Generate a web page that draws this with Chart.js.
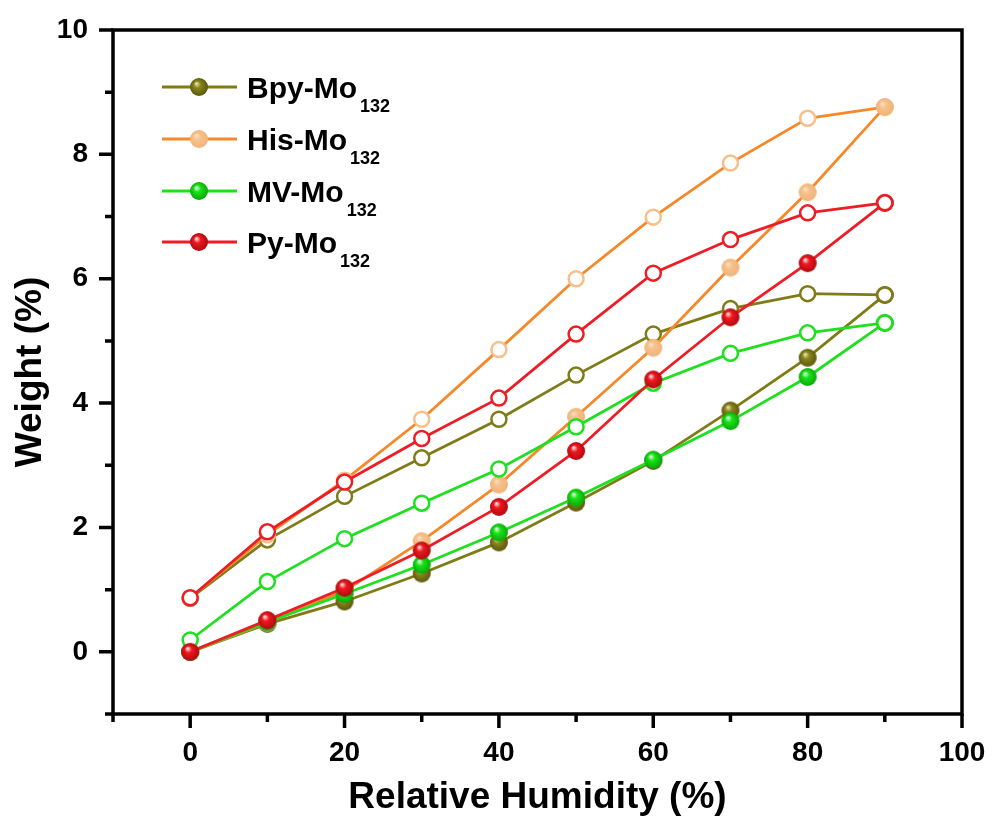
<!DOCTYPE html>
<html lang="en">
<head>
    <meta charset="UTF-8">
    <title>Weight vs Relative Humidity</title>
    <script src="https://cdn.jsdelivr.net/npm/chart.js"></script>
    <style>
        body {
            margin: 0;
            background: #ffffff;
        }
        #wrap {
            width: 992px;
            height: 824px;
        }
    </style>
</head>
<body>
    <div id="wrap">
        <canvas id="rhChart" width="992" height="824"></canvas>
    </div>
    <script>
        // relative humidity (%)
        const humidity = [0, 10, 20, 30, 40, 50, 60, 70, 80, 90];

        // adsorption (filled) and desorption (open) branches, weight %
        const bpyAds = [0, 0.45, 0.81, 1.26, 1.76, 2.40, 3.07, 3.88, 4.73, 5.74];
        const bpyDes = [0.86, 1.80, 2.50, 3.12, 3.74, 4.45, 5.11, 5.52, 5.76, 5.74];
        const hisAds = [0, 0.47, 0.98, 1.78, 2.69, 3.78, 4.89, 6.18, 7.39, 8.76];
        const hisDes = [0.87, 1.88, 2.76, 3.74, 4.86, 6.00, 6.99, 7.86, 8.58, 8.76];
        const mvAds = [0, 0.48, 0.93, 1.40, 1.92, 2.48, 3.09, 3.71, 4.42, 5.29];
        const mvDes = [0.19, 1.13, 1.82, 2.39, 2.94, 3.62, 4.32, 4.80, 5.13, 5.29];
        const pyAds = [0, 0.51, 1.03, 1.63, 2.33, 3.23, 4.38, 5.38, 6.25, 7.22];
        const pyDes = [0.87, 1.93, 2.73, 3.43, 4.08, 5.11, 6.09, 6.63, 7.06, 7.22];

        const seriesNames = ['Bpy-Mo', 'His-Mo', 'MV-Mo', 'Py-Mo'];
        const xTicks = [0, 20, 40, 60, 80, 100];
        const yTicks = [0, 2, 4, 6, 8, 10];

        const FONT = "'Liberation Sans', Arial, sans-serif";

        // little shaded ball used as the filled marker
        function sphere(light, base, dark, r) {
            const c = document.createElement('canvas');
            const s = r * 2 + 2;
            c.width = s;
            c.height = s;
            const g = c.getContext('2d');
            const cx = s / 2, cy = s / 2;
            const grad = g.createRadialGradient(cx - r * 0.3, cy - r * 0.4, r * 0.05, cx, cy, r);
            grad.addColorStop(0, light);
            grad.addColorStop(0.35, base);
            grad.addColorStop(1, dark);
            g.fillStyle = grad;
            g.beginPath();
            g.arc(cx, cy, r, 0, Math.PI * 2);
            g.fill();
            return c;
        }

        const styles = [
            { line: '#7f7b17', open: '#7f7b17', ball: sphere('#e8e6b0', '#8a861c', '#5c580c', 9) },
            { line: '#f5892a', open: '#f6c08a', ball: sphere('#fbe0c4', '#f6c28d', '#f1b377', 9) },
            { line: '#1ee01e', open: '#1ee01e', ball: sphere('#e6ffe6', '#18e418', '#0aa80a', 9) },
            { line: '#ee1c25', open: '#ee1c25', ball: sphere('#ffe6e6', '#f01820', '#b00a10', 9) }
        ];

        function pts(arr) {
            return humidity.map((h, i) => ({ x: h, y: arr[i] }));
        }

        function filledSet(arr, st, order) {
            return {
                data: pts(arr),
                borderColor: st.line,
                borderWidth: 2.8,
                pointStyle: st.ball,
                pointRadius: 9,
                tension: 0,
                order: order
            };
        }

        function openSet(arr, st, order) {
            return {
                data: pts(arr),
                borderColor: st.line,
                borderWidth: 2.8,
                pointStyle: 'circle',
                pointRadius: 7.5,
                pointBorderWidth: 2.5,
                pointBackgroundColor: '#ffffff',
                pointBorderColor: st.open,
                tension: 0,
                order: order
            };
        }

        // lower order is drawn on top
        const datasets = [
            filledSet(bpyAds, styles[0], 7),
            openSet(bpyDes, styles[0], 6),
            openSet(hisDes, styles[1], 5),
            filledSet(hisAds, styles[1], 4),
            filledSet(mvAds, styles[2], 3),
            openSet(mvDes, styles[2], 2),
            filledSet(pyAds, styles[3], 1),
            openSet(pyDes, styles[3], 0)
        ];

        // frame, outward ticks (long major / short minor) and the legend
        const framePlugin = {
            id: 'frame',
            afterDraw(chart) {
                const ctx = chart.ctx;
                const a = chart.chartArea;
                const xs = chart.scales.x, ys = chart.scales.y;
                ctx.save();
                ctx.strokeStyle = '#000';
                ctx.lineWidth = 3.5;
                ctx.strokeRect(a.left, a.top, a.right - a.left, a.bottom - a.top);
                ctx.beginPath();
                for (let v = -10; v <= 100; v += 10) {
                    const px = xs.getPixelForValue(v);
                    const len = xTicks.includes(v) ? 14 : 8;
                    ctx.moveTo(px, a.bottom);
                    ctx.lineTo(px, a.bottom + len);
                }
                for (let v = -1; v <= 10; v += 1) {
                    const py = ys.getPixelForValue(v);
                    const len = yTicks.includes(v) ? 14 : 8;
                    ctx.moveTo(a.left, py);
                    ctx.lineTo(a.left - len, py);
                }
                ctx.stroke();

                // legend
                const lx0 = 162, lx1 = 237, mx = 199, tx = 247;
                const rowY = [87, 139, 191, 242];
                seriesNames.forEach((name, i) => {
                    const st = styles[i];
                    const y = rowY[i];
                    ctx.strokeStyle = st.line;
                    ctx.lineWidth = 2.8;
                    ctx.beginPath();
                    ctx.moveTo(lx0, y);
                    ctx.lineTo(lx1, y);
                    ctx.stroke();
                    ctx.drawImage(st.ball, mx - st.ball.width / 2, y - st.ball.height / 2);
                    ctx.fillStyle = '#000';
                    ctx.textBaseline = 'alphabetic';
                    ctx.textAlign = 'left';
                    ctx.font = 'bold 30px ' + FONT;
                    ctx.fillText(name, tx, y + 11);
                    const w = ctx.measureText(name).width;
                    ctx.font = 'bold 18px ' + FONT;
                    ctx.fillText('132', tx + w + 3, y + 25);
                });
                ctx.restore();
            }
        };

        const ctx = document.getElementById('rhChart').getContext('2d');
        new Chart(ctx, {
            type: 'line',
            data: { datasets: datasets },
            options: {
                responsive: false,
                animation: false,
                layout: { padding: { top: 30, right: 30, left: 0, bottom: 0 } },
                plugins: {
                    legend: { display: false },
                    tooltip: { enabled: false }
                },
                scales: {
                    x: {
                        type: 'linear',
                        min: -10,
                        max: 100,
                        afterFit(scale) {
                            scale.height = 110;
                            scale.paddingLeft = 0;
                            scale.paddingRight = 0;
                        },
                        grid: { display: false, drawTicks: false },
                        border: { display: false },
                        ticks: {
                            stepSize: 10,
                            autoSkip: false,
                            maxRotation: 0,
                            padding: 22,
                            color: '#000',
                            font: { family: FONT, size: 28, weight: 'bold' },
                            callback: v => xTicks.includes(v) ? String(v) : ''
                        },
                        title: {
                            display: true,
                            text: 'Relative Humidity (%)',
                            color: '#000',
                            font: { family: FONT, size: 37, weight: 'bold' },
                            padding: { top: 0, bottom: 4 }
                        }
                    },
                    y: {
                        type: 'linear',
                        min: -1,
                        max: 10,
                        afterFit(scale) {
                            scale.width = 113;
                            scale.paddingTop = 0;
                            scale.paddingBottom = 0;
                        },
                        grid: { display: false, drawTicks: false },
                        border: { display: false },
                        ticks: {
                            stepSize: 1,
                            autoSkip: false,
                            padding: 25,
                            color: '#000',
                            font: { family: FONT, size: 28, weight: 'bold' },
                            callback: v => yTicks.includes(v) ? String(v) : ''
                        },
                        title: {
                            display: true,
                            text: 'Weight (%)',
                            color: '#000',
                            font: { family: FONT, size: 37, weight: 'bold' },
                            padding: { top: 9, bottom: 0 }
                        }
                    }
                }
            },
            plugins: [framePlugin]
        });
    </script>
</body>
</html>
